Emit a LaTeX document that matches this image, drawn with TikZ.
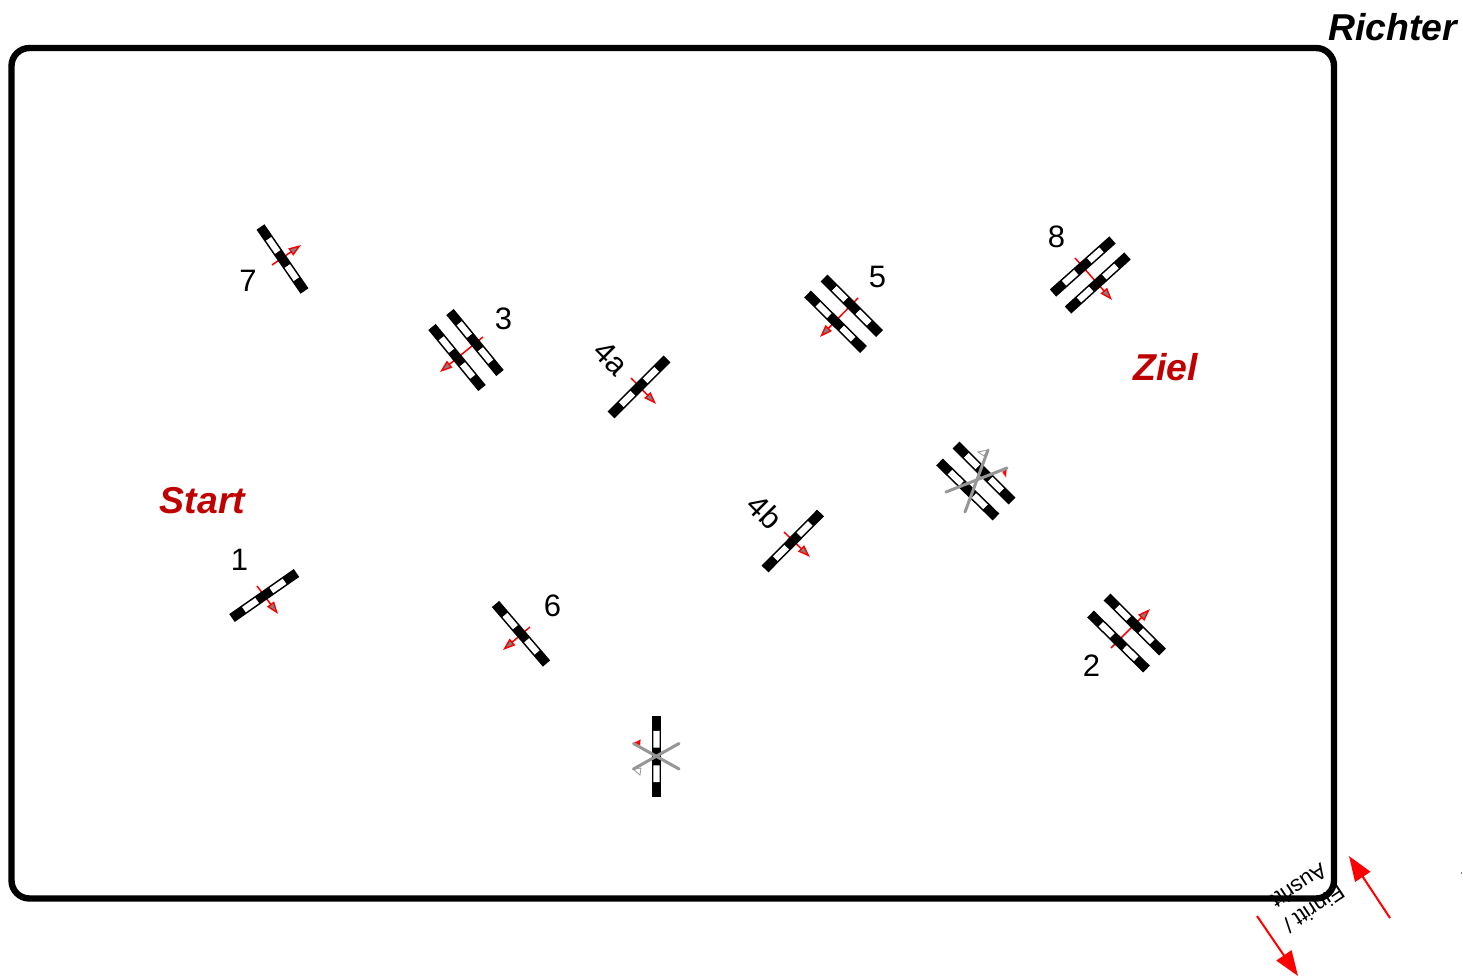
\documentclass[tikz,border=0pt]{standalone}
\usepackage{fontspec}
\setmainfont{Liberation Sans}
\usetikzlibrary{calc,arrows.meta}
\definecolor{darkred}{RGB}{192,0,0}
\definecolor{crossgray}{RGB}{150,150,150}
\tikzset{
  frameline/.style={draw=black,line width=6.4pt,rounded corners=18pt},
  gatearrow/.style={draw=red,line width=1.5pt,-{Triangle[length=12.5pt,width=8.5pt,fill=gray,line width=1.4pt]}},
  bigarrow/.style={draw=red,line width=2pt,-{Triangle[length=25pt,width=18pt,fill=red]}},
  crossline/.style={draw=crossgray,line width=3pt,line cap=round},
  numlabel/.style={font=\fontsize{31}{31}\selectfont,inner sep=0pt,text=black},
  redlabel/.style={font=\fontsize{37.4}{37}\selectfont\bfseries\itshape,inner sep=0pt,text=darkred},
  smalllabel/.style={font=\fontsize{22}{22}\selectfont,inner sep=0pt,text=black,rotate=213.5},
}
\newcommand{\gatebar}[4]{%
  \draw[black,line width=9.6pt] (#1,#2) -- (#3,#4);
  \draw[white,line width=6.4pt] ($(#1,#2)!0.185!(#3,#4)$) -- ($(#1,#2)!0.39!(#3,#4)$);
  \draw[white,line width=6.4pt] ($(#1,#2)!0.61!(#3,#4)$) -- ($(#1,#2)!0.815!(#3,#4)$);
}
\begin{document}
\begin{tikzpicture}[x=1pt,y=-1pt]
\useasboundingbox (0,0) rectangle (1463,976);
\fill[white] (0,0) rectangle (1463,976);

% entry labels (behind the frame)
\node[smalllabel] (ausritt) at (1299,886) {Ausritt};
\node[smalllabel] (einritt) at (1314,909) {Einritt /};

% frame
\draw[frameline] (11.5,48) rectangle (1334,898.5);

% direction arrows of the gates
\draw[gatearrow] (272,265) -- (301,245);
\draw[gatearrow] (257,586) -- (278,614);
\draw[gatearrow] (530,627) -- (503,650);
\draw[gatearrow] (631,378) -- (656,404);
\draw[gatearrow] (784,532) -- (810,557);
\draw[gatearrow] (483,337) -- (440,372);
\draw[gatearrow] (858,298) -- (820,337);
\draw[gatearrow] (1075,258) -- (1112,300);
\draw[gatearrow] (1111,648) -- (1150,609);

% single gates
\gatebar{260.5}{227}{304.5}{291}
\gatebar{232}{618}{296.5}{573}
\gatebar{495.5}{604}{546.5}{663.5}
\gatebar{611}{415}{667}{359}
\gatebar{765}{569}{820.5}{513}
% double gates
\gatebar{432}{327}{482}{388}
\gatebar{450}{312}{500}{373}
\gatebar{807.5}{294}{863.5}{349.5}
\gatebar{824}{278}{879.5}{333.5}
\gatebar{1053}{293}{1112.5}{240}
\gatebar{1068}{310}{1127.5}{256}
\gatebar{1090.5}{614}{1146.5}{669}
\gatebar{1107}{597}{1162.5}{652}
% crossed double gate
\gatebar{939.5}{462}{996}{517}
\gatebar{956}{445}{1012}{501}
\fill[white,draw=crossgray,line width=0.8pt] (988,450) -- (978,452) -- (984,456) -- cycle;
\fill[red,draw=white!80!red,line width=0.5pt] (1007,468) -- (1002,472) -- (1006,478) -- cycle;
\draw[crossline] (946,492) -- (1007,468);
\draw[crossline] (965,512) -- (988,450);
% crossed vertical gate
\gatebar{656.5}{716}{656.5}{797}
\fill[red,draw=white!80!red,line width=0.5pt] (633,743) -- (641,739) -- (640,746) -- cycle;
\fill[white,draw=crossgray,line width=0.8pt] (633,769) -- (641,768) -- (640,775) -- cycle;
\draw[crossline] (633.5,743.5) -- (679,769);
\draw[crossline] (633.5,769) -- (679,743.5);

% numbers
\node[numlabel] (n1) at (239.5,560) {1};
\node[numlabel] (n2) at (1091.5,666) {2};
\node[numlabel] (n3) at (503.5,318.5) {3};
\node[numlabel,rotate=-45] (n4a) at (611,358.5) {4a};
\node[numlabel,rotate=-45] (n4b) at (765,511.5) {4b};
\node[numlabel] (n5) at (877.5,277) {5};
\node[numlabel] (n6) at (552.5,606) {6};
\node[numlabel] (n7) at (248,281) {7};
\node[numlabel] (n8) at (1056.5,237) {8};

% titles
\node[redlabel] (start) at (202.5,500.5) {Start};
\node[redlabel] (ziel) at (1165.5,367) {Ziel};
\node[redlabel,text=black] (richter) at (1392.5,27) {Richter};

% entry / exit arrows
\coordinate (inS) at (1390,918);
\coordinate (inE) at (1349,856);
\coordinate (outS) at (1257,916);
\coordinate (outE) at (1298,976);
\draw[bigarrow] (inS) -- (inE);
\draw[bigarrow] (outS) -- (outE);
\fill[black] (1461.5,873) circle (0.6pt);
\end{tikzpicture}
\end{document}
